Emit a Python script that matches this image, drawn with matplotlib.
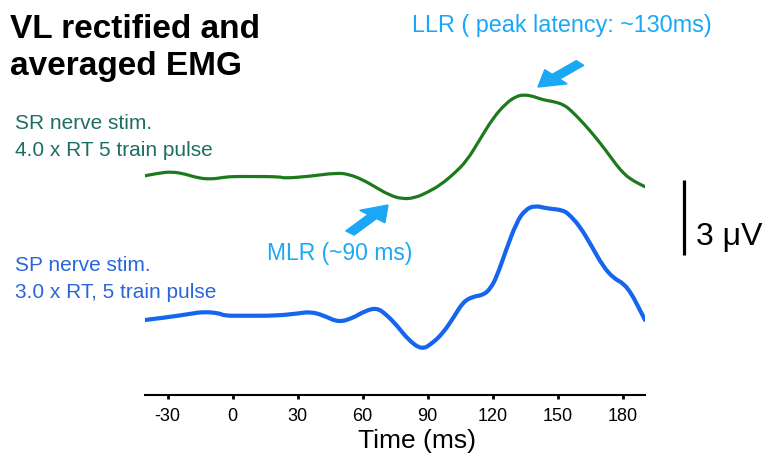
import numpy as np
import matplotlib
matplotlib.use('Agg')
import matplotlib.pyplot as plt
from matplotlib.patches import FancyArrow, PathPatch
from matplotlib.path import Path

plt.rcParams['font.family'] = ['Liberation Sans', 'DejaVu Sans']
plt.rcParams['axes.unicode_minus'] = False

# time axis (ms) and traces (uV, relative to each trace's own baseline)
sr_time = [-40.5, -34, -28, -22, -16, -10, -4, 0, 10, 22, 23.5, 35, 48, 54, 60, 66, 72, 78,
           84, 90, 96, 102, 108, 114, 120, 126, 131, 135, 139, 143, 148, 153, 157, 162,
           167, 172, 177, 181, 185, 190.3]
sr_emg = [0.01, 0.12, 0.17, 0.08, -0.08, -0.13, -0.05, -0.02, -0.02, -0.03, -0.09, -0.02,
          0.13, 0.06, -0.15, -0.45, -0.75, -0.92, -0.88, -0.65, -0.35, 0.08, 0.6, 1.45,
          2.3, 2.9, 3.2, 3.25, 3.18, 3.05, 2.98, 2.85, 2.55, 2.1, 1.6, 1.05, 0.45, 0.05,
          -0.2, -0.43]

sp_time = [-40.5, -30, -20, -13.6, -6, -4, 5, 20, 30, 36, 42, 48.7, 55, 61, 66.5, 71, 76,
           81, 87.2, 92, 97, 102, 106.4, 111, 115.7, 119, 122, 126, 131, 135, 139.5, 145,
           152.6, 156, 160.3, 165, 171, 176, 180.3, 184, 187, 190.3]
sp_emg = [-0.16, -0.05, 0.08, 0.17, 0.11, 0.01, 0.01, 0.01, 0.1, 0.17, 0.02, -0.25, -0.1,
          0.2, 0.33, 0.05, -0.4, -0.95, -1.35, -1.1, -0.69, -0.05, 0.57, 0.78, 0.84, 1.1,
          1.6, 2.6, 3.75, 4.25, 4.42, 4.3, 4.24, 4.0, 3.57, 2.9, 1.97, 1.5, 1.31, 0.9, 0.4,
          -0.16]

xticks = [-30, 0, 30, 60, 90, 120, 150, 180]
scale_uv = 3

W, H = 772, 465
SR_OFFSET = 8.76
SP_OFFSET = 3.16

green = '#1c7a1c'
blue = '#1565ee'
cyan = '#1aa8f5'


def fx(x):
    return x / W


def fy(y):
    return 1 - y / H


def smooth_path(xs, ys):
    # quadratic bezier through midpoints, data points act as control points
    pts = np.column_stack([xs, ys])
    verts = [pts[0]]
    codes = [Path.MOVETO]
    for i in range(1, len(pts) - 1):
        mid = (pts[i] + pts[i + 1]) / 2
        verts += [pts[i], mid]
        codes += [Path.CURVE3, Path.CURVE3]
    verts.append(pts[-1])
    codes.append(Path.LINETO)
    return Path(verts, codes)


fig = plt.figure(figsize=(W / 100, H / 100), dpi=100)
ax = fig.add_axes([fx(145), fy(395), (645 - 145) / W, 395 / H])
ax.set_xlim(-40.5, 190.3)
ax.set_ylim(0, 395 / 25)

ax.add_patch(PathPatch(smooth_path(sr_time, np.array(sr_emg) + SR_OFFSET), fill=False,
                       edgecolor=green, lw=2.3, joinstyle='round', capstyle='round'))
ax.add_patch(PathPatch(smooth_path(sp_time, np.array(sp_emg) + SP_OFFSET), fill=False,
                       edgecolor=blue, lw=3.0, joinstyle='round', capstyle='round'))

for s in ['top', 'right', 'left']:
    ax.spines[s].set_visible(False)
ax.spines['bottom'].set_linewidth(1.5)
ax.set_yticks([])
ax.set_xticks(xticks)
ax.tick_params(axis='x', direction='out', length=3, width=2, labelsize=13, pad=6)
ax.patch.set_alpha(0)

# scale bar
ax.plot([208.3, 208.3], [8.6, 8.6 - scale_uv], color='black', lw=2.3,
        solid_capstyle='butt', clip_on=False)
fig.text(fx(696), fy(245), f'{scale_uv} μV', fontsize=23, va='baseline')

# arrows, pixel positions
for (x0, y0), (x1, y1) in [((350, 233), (388, 205)), ((580, 63), (538, 87))]:
    arr = FancyArrow(fx(x0), fy(y0), fx(x1) - fx(x0), fy(y1) - fy(y0),
                     width=0.014, head_width=0.042, head_length=0.032,
                     length_includes_head=True, color=cyan, transform=fig.transFigure)
    fig.patches.append(arr)

fig.text(fx(10), fy(38), 'VL rectified and', fontsize=24, fontweight='bold', va='baseline')
fig.text(fx(10), fy(75), 'averaged EMG', fontsize=24, fontweight='bold', va='baseline')

fig.text(fx(15), fy(129), 'SR nerve stim.', fontsize=15, color='#1d6e64', va='baseline')
fig.text(fx(15), fy(156), '4.0 x RT 5 train pulse', fontsize=15, color='#1d6e64', va='baseline')
fig.text(fx(15), fy(271), 'SP nerve stim.', fontsize=15, color='#2a66d8', va='baseline')
fig.text(fx(15), fy(298), '3.0 x RT, 5 train pulse', fontsize=15, color='#2a66d8', va='baseline')

fig.text(fx(267), fy(260), 'MLR (~90 ms)', fontsize=16.5, color=cyan, va='baseline')
fig.text(fx(412), fy(32), 'LLR ( peak latency: ~130ms)', fontsize=16.8, color=cyan, va='baseline')

fig.text(fx(417), fy(448), 'Time (ms)', fontsize=19, ha='center', va='baseline')

fig.savefig('out.png', dpi=100)
